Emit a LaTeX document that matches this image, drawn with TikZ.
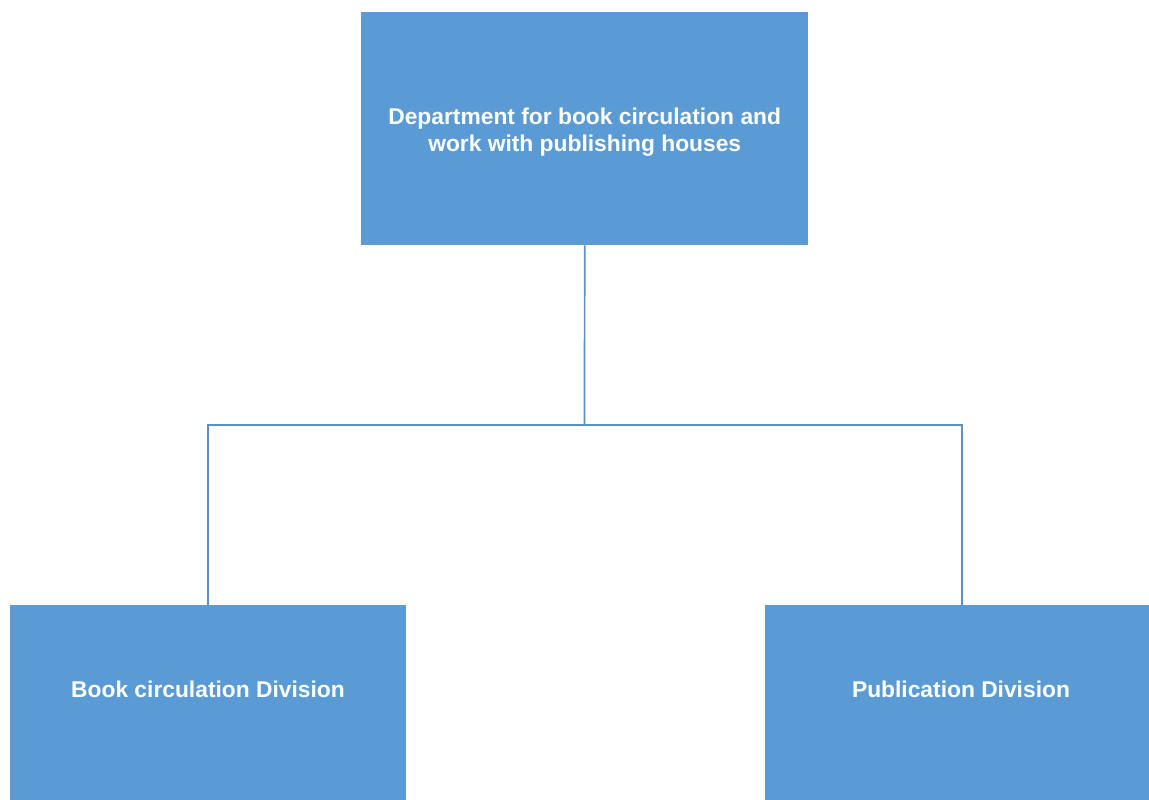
\documentclass[tikz,border=0pt]{standalone}
\usepackage{fontspec}
\setmainfont{Liberation Sans}
\begin{document}
\begin{tikzpicture}[x=1pt,y=-1pt,
  unitbox/.style={rectangle, fill=boxblue, draw=none, inner sep=0pt},
  unittext/.style={text=white, font=\fontsize{22.8}{27}\selectfont\bfseries, align=center, inner sep=0pt},
  conn/.style={draw=lineblue, line width=1.7pt}]
\definecolor{boxblue}{HTML}{5B9BD5}
\definecolor{lineblue}{HTML}{5A8FCB}
\useasboundingbox (0,0) rectangle (1149,800);
% head of the department
\node[unitbox, minimum width=447, minimum height=233, anchor=north west] (dept) at (361,12) {};
\node[unittext] (depttext) at ([yshift=-3]dept.center) {Department for book circulation and\\work with publishing houses};
% divisions
\node[unitbox, minimum width=396, minimum height=200, anchor=north west] (books) at (10,605) {};
\node[unittext] (bookstext) at (208,689) {Book circulation Division};
\node[unitbox, minimum width=394, minimum height=200, anchor=north west] (pub) at (765,605) {};
\node[unittext] (pubtext) at (961,689) {Publication Division};
% connectors
\coordinate (fork) at (584.5,425);
\coordinate (bookstop) at (208,605);
\coordinate (pubtop) at (962,605);
\draw[conn] (dept.south) -- (fork);
\draw[conn] (bookstop) |- (fork) -| (pubtop);
\end{tikzpicture}
\end{document}
